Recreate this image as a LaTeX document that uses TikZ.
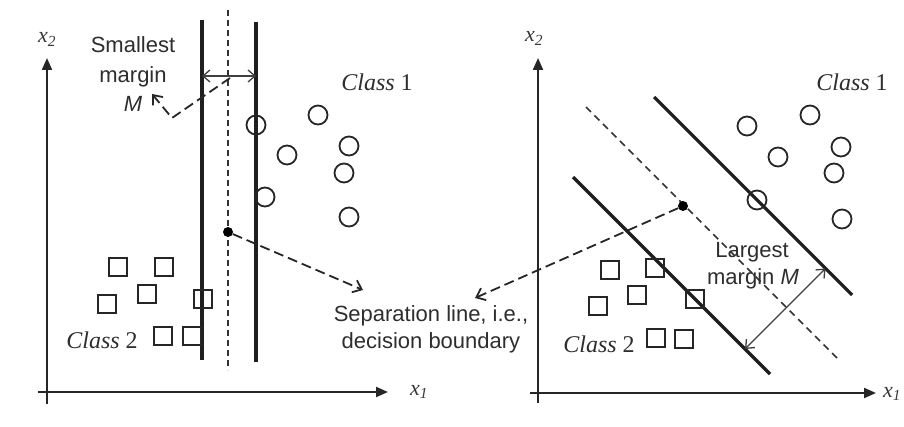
\documentclass[tikz,border=0pt]{standalone}
\usepackage{fontspec}
\setmainfont{Liberation Serif}
\setsansfont{Liberation Sans}
\usetikzlibrary{arrows.meta}
\begin{document}
\begin{tikzpicture}[x=1pt,y=-1pt,
 axis/.style={line width=2pt, draw=black!85, -{Triangle[length=12pt,width=10pt]}},
 margline/.style={line width=3.2pt, draw=black!88},
 decline/.style={line width=1.8pt, draw=black!80, dash pattern=on 6pt off 4pt},
 pointer/.style={line width=1.8pt, draw=black!85, dash pattern=on 10pt off 5pt, -{Straight Barb[length=8pt,width=13pt]}},
 gap/.style={line width=1.3pt, draw=black!75, {Straight Barb[length=7pt,width=12pt]}-{Straight Barb[length=7pt,width=12pt]}},
 cls1/.style={circle, draw=black!85, line width=1.8pt, minimum size=19pt, inner sep=0pt},
 cls2/.style={rectangle, draw=black!85, line width=1.8pt, minimum size=18pt, inner sep=0pt},
 lbl/.style={font=\sffamily\fontsize{22}{26}\selectfont, text=black!82, inner sep=0pt, anchor=base},
 cname/.style={font=\fontsize{24}{28}\selectfont, text=black!82, inner sep=0pt, anchor=base},
 axlbl/.style={font=\fontsize{22}{26}\selectfont\itshape, text=black!78, inner sep=0pt, anchor=base},
 dot/.style={circle, fill=black, inner sep=0pt, minimum size=10pt}
]
\useasboundingbox[fill=white] (0,0) rectangle (904,427);

% ---------------- left panel ----------------
\coordinate (ly0) at (47,404); \coordinate (ly1) at (47,58);
\coordinate (lx0) at (38,392); \coordinate (lx1) at (388,392);
\draw[axis] (ly0) -- (ly1);
\draw[axis] (lx0) -- (lx1);
\node[axlbl] (lx2) at (47,43) {x\textsubscript{2}};
\node[axlbl] (lx1lab) at (419,395) {x\textsubscript{1}};

\coordinate (La) at (202,20); \coordinate (Lb) at (202,360);
\coordinate (Ra) at (256,22); \coordinate (Rb) at (256,362);
\coordinate (Da) at (228,10); \coordinate (Db) at (228,370);
\draw[margline] (La) -- (Lb);
\draw[margline] (Ra) -- (Rb);
\draw[decline] (Da) -- (Db);

\coordinate (gl) at (202,76); \coordinate (gr) at (256,76);
\draw[gap] (gl) -- (gr);

\node[lbl] (s1) at (133,53) {Smallest};
\node[lbl] (s2) at (133,83) {margin};
\node[lbl] (s3) at (133,112) {\itshape M};
\coordinate (gs) at (230,78); \coordinate (gbend) at (172,118); \coordinate (gtip) at (152,94);
\draw[pointer] (gs) -- (gbend) -- (gtip);

\node[cname] (c1l) at (377,91) {\textit{Class} 1};
\node[cname] (c2l) at (102,348) {\textit{Class} 2};

\foreach \n/\x/\y in {a/256/125, b/318/115, c/287/155, d/349/146, e/344/173, f/265/197, g/349/217}
  \node[cls1] (lc\n) at (\x,\y) {};
\foreach \n/\x/\y in {a/118/267, b/164/267, c/147/294, d/107/304, e/203/299, f/163/336, g/192/336}
  \node[cls2] (ls\n) at (\x,\y) {};

\node[dot] (ldot) at (228,232) {};
\coordinate (ltip) at (363,290);
\draw[pointer] (ldot) -- (ltip);

\node[lbl] (sep1) at (431,322) {Separation line, i.e.,};
\node[lbl] (sep2) at (431,348) {decision boundary};

% ---------------- right panel ----------------
\coordinate (ry0) at (538,403); \coordinate (ry1) at (538,58);
\coordinate (rx0) at (530,393); \coordinate (rx1) at (876,393);
\draw[axis] (ry0) -- (ry1);
\draw[axis] (rx0) -- (rx1);
\node[axlbl] (rx2) at (534,42) {x\textsubscript{2}};
\node[axlbl] (rx1lab) at (892,397) {x\textsubscript{1}};

\coordinate (Ua) at (654,97); \coordinate (Ub) at (852,295);
\coordinate (Wa) at (573,177); \coordinate (Wb) at (770,374);
\coordinate (Ea) at (586,107); \coordinate (Eb) at (840,361);
\draw[margline] (Ua) -- (Ub);
\draw[margline] (Wa) -- (Wb);
\draw[decline, line width=1.6pt, dash pattern=on 7pt off 5pt] (Ea) -- (Eb);

\coordinate (mp) at (745,349); \coordinate (mq) at (825.5,268.5);
\draw[gap] (mp) -- (mq);

\node[lbl] (lg1) at (752,258) {Largest};
\node[lbl] (lg2) at (753,285) {margin \textit{M}};

\node[cname] (c1r) at (852,91) {\textit{Class} 1};
\node[cname] (c2r) at (599,352) {\textit{Class} 2};

\foreach \n/\x/\y in {a/747/126, b/810/115, c/778/157, d/841/147, e/834/173, f/757/200, g/842/219}
  \node[cls1] (rc\n) at (\x,\y) {};
\foreach \n/\x/\y in {a/610/270, b/655/268, c/637/295, d/598/306, e/695/299, f/656/338, g/684/339}
  \node[cls2] (rs\n) at (\x,\y) {};

\node[dot] (rdot) at (683,206) {};
\coordinate (rtip) at (475,298);
\draw[pointer] (rdot) -- (rtip);
\end{tikzpicture}
\end{document}
